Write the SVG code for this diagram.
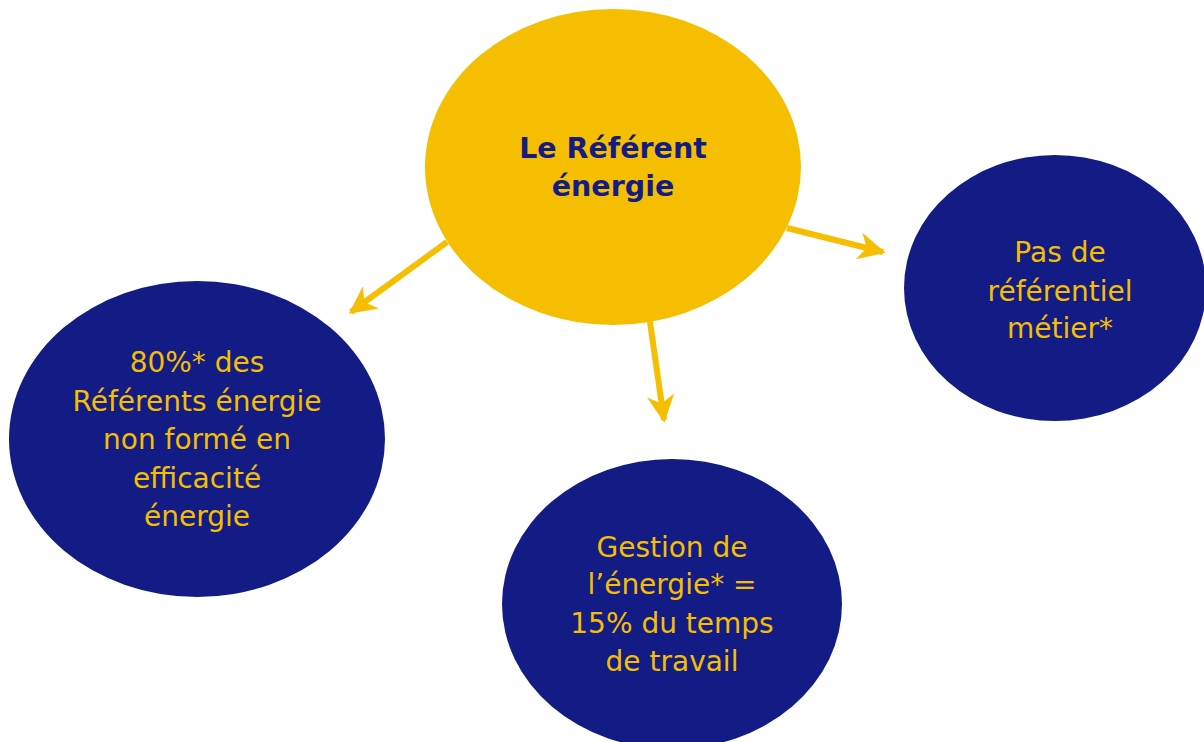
<svg xmlns="http://www.w3.org/2000/svg" width="1204" height="742" viewBox="0 0 1204 742">
<defs>
<style>
.navy{fill:#131c85}
.yel{fill:#f5be00}
.t{font-family:"DejaVu Sans",Verdana,sans-serif;font-size:28px;fill:#f5be00;text-anchor:middle}
.tb{font-family:"DejaVu Sans",Verdana,sans-serif;font-size:28.5px;font-weight:bold;fill:#131c85;text-anchor:middle}
.c{stroke:#f5be00;stroke-width:6;fill:none;marker-end:url(#ah)}
</style>
<marker id="ah" viewBox="0 0 10 10" refX="9" refY="5" markerWidth="4.6" markerHeight="4.6" orient="auto" markerUnits="strokeWidth">
<path d="M0,0 L10,5 L0,10 L3,5 Z" fill="#f5be00"/>
</marker>
</defs>
<rect width="1204" height="742" fill="#fff"/>
<g id="connectors">
<line class="c" x1="447" y1="242" x2="351" y2="312"/>
<line class="c" x1="650" y1="322" x2="664" y2="420"/>
<line class="c" x1="787" y1="228" x2="883" y2="252"/>
</g>
<g id="center">
<ellipse class="yel" cx="613" cy="167" rx="188" ry="158"/>
<text class="tb" x="613" y="158">Le Référent</text>
<text class="tb" x="613" y="196">énergie</text>
</g>
<g id="left">
<ellipse class="navy" cx="197" cy="439" rx="188" ry="158"/>
<text class="t" x="197" y="372">80%* des</text>
<text class="t" x="197" y="411">Référents énergie</text>
<text class="t" x="197" y="449">non formé en</text>
<text class="t" x="197" y="488">efficacité</text>
<text class="t" x="197" y="526">énergie</text>
</g>
<g id="bottom">
<ellipse class="navy" cx="672" cy="604" rx="170" ry="145"/>
<text class="t" x="672" y="557">Gestion de</text>
<text class="t" x="672" y="594">l’énergie* =</text>
<text class="t" x="672" y="633">15% du temps</text>
<text class="t" x="672" y="671">de travail</text>
</g>
<g id="right">
<ellipse class="navy" cx="1055" cy="288" rx="151" ry="133"/>
<text class="t" x="1060" y="262">Pas de</text>
<text class="t" x="1060" y="301">référentiel</text>
<text class="t" x="1060" y="338">métier*</text>
</g>
</svg>
